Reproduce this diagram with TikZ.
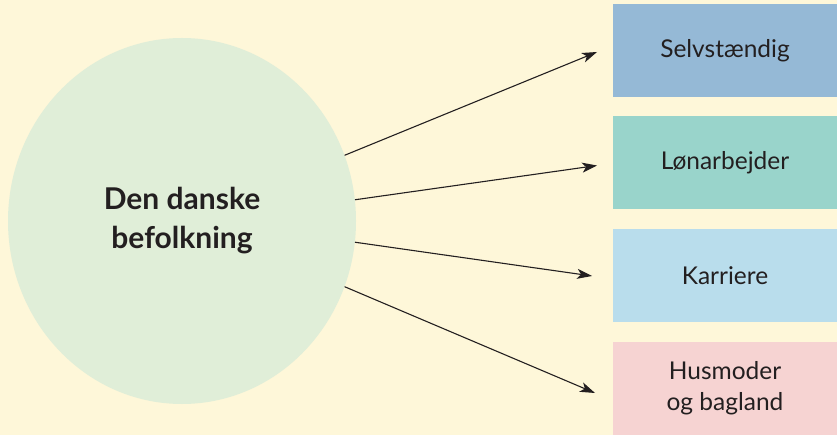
\documentclass[tikz,border=0pt]{standalone}
\usepackage{fontspec}
\setmainfont{Lato}
\usetikzlibrary{shapes.geometric,arrows.meta}
\definecolor{bgcol}{HTML}{FEF7D9}
\definecolor{ellcol}{HTML}{E0EED8}
\definecolor{c1}{HTML}{95B9D6}
\definecolor{c2}{HTML}{99D4CB}
\definecolor{c3}{HTML}{B9DDEC}
\definecolor{c4}{HTML}{F6D3D2}
\definecolor{txt}{HTML}{231F20}
\tikzset{
  box/.style={rectangle, minimum width=224pt, minimum height=93pt, inner sep=0pt, align=center,
    text=txt, font=\fontsize{24.5}{31}\selectfont},
  conn/.style={line width=1.1pt, draw=txt, -{Stealth[length=15pt,width=10pt,inset=4pt]}},
}
\begin{document}
\begin{tikzpicture}[x=1pt,y=-1pt]
\fill[bgcol] (0,0) rectangle (837,435);
\useasboundingbox (0,0) rectangle (837,435);
\node[ellipse, fill=ellcol, minimum width=348pt, minimum height=366pt, inner sep=0pt, align=center,
  text=txt, font=\bfseries\fontsize{30}{39}\selectfont] (e) at (182,221) {Den danske\\befolkning};
\node[box, fill=c1] (b1) at (725,51) {Selvstændig};
\node[box, fill=c2] (b2) at (725,162.5) {Lønarbejder};
\node[box, fill=c3] (b3) at (725,275.5) {Karriere};
\node[box, fill=c4] (b4) at (725,388.5) {Husmoder\\og bagland};
\coordinate (t1) at (597,52);
\coordinate (t2) at (597,165.5);
\coordinate (t3) at (592,276);
\coordinate (t4) at (595,393);
\draw[conn] (e.22) -- (t1);
\draw[conn] (e.7.5) -- (t2);
\draw[conn] (e.-7.5) -- (t3);
\draw[conn] (e.-22.5) -- (t4);
\end{tikzpicture}
\end{document}
